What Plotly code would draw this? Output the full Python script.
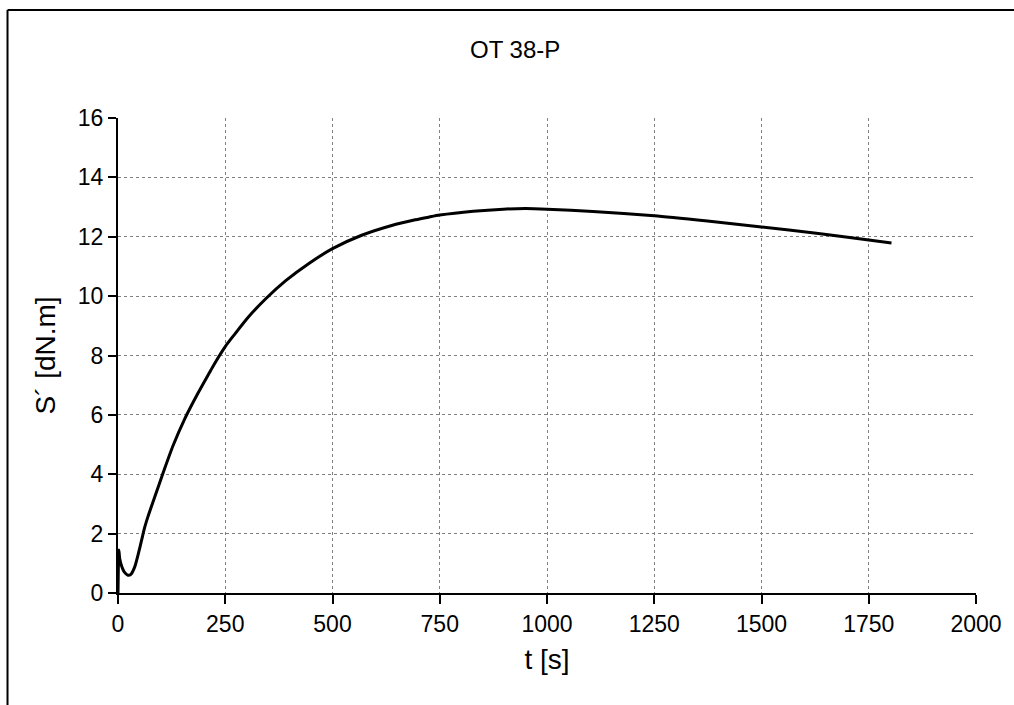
import plotly.graph_objects as go

t_s = [0, 2, 4, 8, 15, 23, 30, 39, 47, 55, 62, 70, 86, 105, 128, 155, 186, 213, 224,
       250, 270, 306, 345, 391, 445, 500, 568, 638, 693, 724, 750, 828, 898, 950, 1000,
       1107, 1250, 1374, 1500, 1628, 1750, 1803]
s_val = [0, 1.45, 1.15, 0.93, 0.70, 0.60, 0.63, 0.88, 1.30, 1.78, 2.20, 2.58, 3.25,
         4.04, 4.95, 5.85, 6.72, 7.42, 7.70, 8.30, 8.68, 9.33, 9.92, 10.52, 11.10,
         11.60, 12.05, 12.38, 12.57, 12.66, 12.73, 12.86, 12.93, 12.95, 12.93, 12.85,
         12.71, 12.53, 12.33, 12.12, 11.89, 11.79]
x_ticks = [0, 250, 500, 750, 1000, 1250, 1500, 1750, 2000]
y_ticks = [0, 2, 4, 6, 8, 10, 12, 14, 16]
title_text = "OT 38-P"
x_title = "t [s]"
y_title = "S´ [dN.m]"

FONT = "Liberation Sans, Arial, sans-serif"
FS = 23

fig = go.Figure()
fig.add_trace(go.Scatter(x=t_s, y=s_val, mode="lines",
                         line=dict(color="black", width=3, shape="spline", smoothing=0.6),
                         showlegend=False, hoverinfo="skip"))

L, R, T, B = 118, 34, 118, 112
W, H = 1014, 705
pw, ph = W - L - R, H - T - B

fig.update_layout(
    width=W, height=H,
    margin=dict(l=L, r=R, t=T, b=B),
    paper_bgcolor="white", plot_bgcolor="white",
    font=dict(family=FONT, size=FS, color="black"),
    title=dict(text=title_text, x=(517 - L) / pw, xref="paper", xanchor="center",
               y=1 - 50 / H, yanchor="middle", font=dict(size=24)),
)
grid = dict(showgrid=True, gridcolor="#808080", griddash="dot", gridwidth=1,
            zeroline=False)
fig.update_xaxes(range=[0, 2000], tickvals=x_ticks, ticks="outside", ticklen=9,
                 tickwidth=1.5, tickcolor="black", showline=True, linecolor="black",
                 linewidth=2, title=dict(text=x_title, standoff=14), **grid)
fig.update_yaxes(range=[0, 16], tickvals=y_ticks, ticks="outside", ticklen=8,
                 tickwidth=1.5, tickcolor="black", showline=True, linecolor="black",
                 linewidth=2, title=dict(text=y_title, standoff=14), **grid)

# outer chart frame (top and left edges; right/bottom run past the page)
fx0 = (7 - L) / pw
fx1 = (W + 20 - L) / pw
fy0 = -(B + 20) / ph
fy1 = 1 + (T - 10) / ph
for x0, y0, x1, y1 in [(fx0, fy1, fx1, fy1), (fx0, fy0, fx0, fy1)]:
    fig.add_shape(type="line", xref="paper", yref="paper",
                  x0=x0, y0=y0, x1=x1, y1=y1,
                  line=dict(color="black", width=2), layer="below")

fig.write_html("out.html", config={"displayModeBar": False},
               post_script="document.body.style.margin='0';document.body.style.overflow='hidden';")
